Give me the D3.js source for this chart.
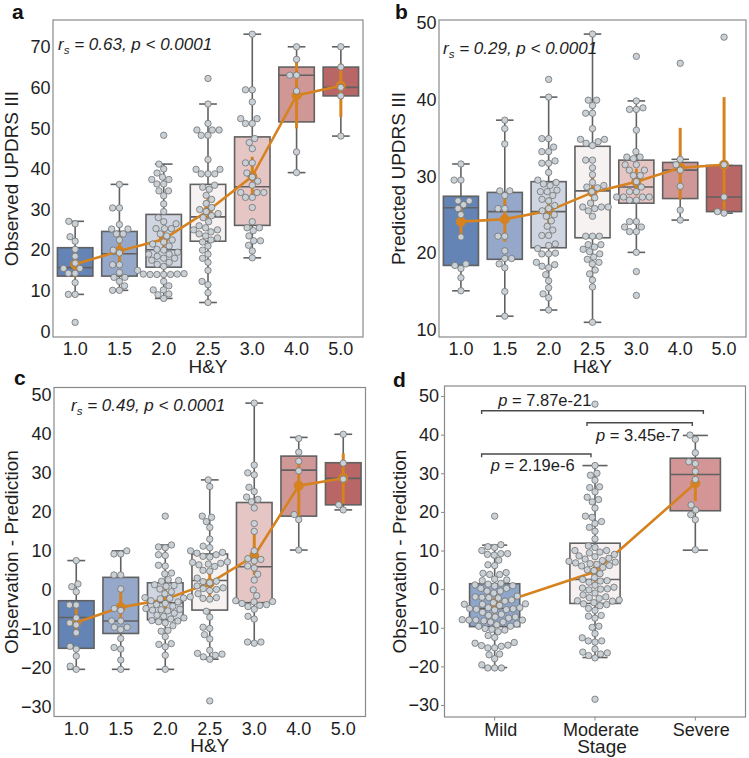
<!DOCTYPE html>
<html><head><meta charset="utf-8">
<script src="https://cdn.jsdelivr.net/npm/d3@7"></script>
<style>body{margin:0;background:#fff}svg{display:block;font-family:"Liberation Sans",Arial,Helvetica,sans-serif}</style>
</head><body>
<script>
// ---------------- DATA ----------------
const hyCats = ["1.0","1.5","2.0","2.5","3.0","4.0","5.0"];
const stageCats = ["Mild","Moderate","Severe"];
const hyColors = ["#6384b5","#95a8c9","#cfd5e1","#f7f2f2","#e6c5c5","#d09797","#b96666"];
const stageColors = ["#8fa6cb","#f6f0f0","#d39595"];

const ticksA = [0,10,20,30,40,50,60,70];
const ticksB = [10,20,30,40,50];
const ticksC = [-30,-20,-10,0,10,20,30,40,50];

// Panel a: observed UPDRS III per H&Y
const observedValues = [
 [27.1,26.5,23.3,22.2,20.2,18.5,16.8,15.5,15.5,14.3,14.3,12,9.1,9.1,2.2],
 [36.2,30.4,30.4,26.3,25.2,25.2,24,24,22.5,20,19.3,16.4,16.4,14.5,13.3,13.3,12.3,11.2,10.1,10.1],
 [48.3,41.2,40,39,38,37.4,37.4,36.3,36.3,34.6,34.6,33.4,31.4,29.5,28,27,26.5,25.3,25.3,25.3,24,23.5,22.5,22,21.5,21,20.2,20,19.5,19,19,18.5,18,18,17.5,17,16.5,16,15,14.2,14.1,14.1,14,14,14,14,12.3,11.2,10.2,10.2,9.2,9,8.1],
 [62.3,56,51.2,49.6,49.6,49.6,48.3,48.3,42.3,39.9,39.9,38.8,38.8,38.8,36,35.5,35,33.5,32.5,31.5,30.5,30,29.5,29,28.5,28,27,26,25.5,25,25,24.5,24,23.5,23,22.5,22,21,20,19,18,17,15,12.3,11.5,9.5,7.1],
 [73.2,59.5,59.5,56.5,52.4,52.4,51.2,51.2,47.5,46.5,45,41.5,41.5,39,38,37,36,34.2,34.2,34.2,33,33,30.5,27,25.5,25.5,24.8,23.5,22.3,22.3,21.2,19.8,18.1],
 [70.1,67,63.1,63.1,59.2,44.2,39.1],
 [70.1,65.1,60.1,58,48.1]
];
// [whisker low, q1, median, q3, whisker high]
const observedBox = [
 [9.1,13.6,15.7,20.6,27.1],[10.1,13.6,19.1,24.6,36.2],[8.1,15.8,20.1,28.8,41.2],
 [7.1,22.2,28.2,36.2,56],[18.1,26.1,35.6,47.9,73.2],[39.1,51.6,63.1,65.1,70.1],[48.1,58,60.1,65.1,70.1]
];
const observedMean = [16.5,19.8,22.7,29.7,38.2,58.1,60.5];
const observedCiLow = [13.3,16.8,20.5,26.5,33.5,50,52.8];
const observedCiHigh = [20,23.5,25,33,43,67,66];

// Panel b: predicted UPDRS III per H&Y
const predictedValues = [
 [31.6,29.5,29.5,26.8,26.8,26.3,25.8,25,22.1,18.6,18.4,18,16.8,15.1],
 [37.3,36.2,34.2,28.1,28.1,27.5,25.8,25.8,22.2,22.2,20.3,19.3,19.3,18.6,18.1,15,11.8],
 [42.6,40.3,34.9,34.9,33.8,33.2,33.2,32,31.7,31.7,30.5,29.5,29.2,29,28.8,28.2,28,28,27.5,27,26.8,26.2,25.8,25.5,25,24.8,24.2,23.5,23,22.3,22.3,21.2,21,20.6,20,19.9,19.9,18.8,18.5,18.3,18.1,17.2,16.4,15.5,14.7,14.2,12.6],
 [48.5,39.9,39.9,39.2,38.2,38.2,36.2,34.8,34.8,34.5,34.3,34,32.1,32.1,31.1,30.2,29.2,28.8,28.6,28.5,28,27.2,26.5,26,26,26,25.8,25.5,24.8,22.2,22.2,22.2,21.1,21.1,20.8,20.5,20.2,19.9,19.5,19.2,18.8,18.6,17.8,17.3,16.5,15.6,11],
 [45.6,39.8,38.9,38.7,38.7,36,33.2,32.5,32.5,32.3,31.5,31.5,30.8,30.8,30.1,30.1,29.3,28.6,28,28,27.3,27.3,27.3,27.3,26.9,26.9,24.1,24.1,23.4,23.4,22.8,22.8,20.1,17.6,14.5],
 [44.7,32.2,31.5,30.8,28.7,25.6,24.3],
 [48.1,31.5,27.3,25.4,25.2]
];
const predictedBox = [
 [15.1,18.4,25.9,27.4,31.6],[11.8,19.2,25.4,27.9,37.3],[12.6,20.7,25.4,29.3,40.3],
 [11,22,28.1,33.9,48.5],[20.1,26.5,28.6,32.1,39.8],[24.3,27.1,30.8,31.8,32.2],[25.2,25.4,27.3,31.4,31.4]
];
const predictedMean = [24.1,24.4,25.5,27.9,29.3,31.1,31.5];
const predictedCiLow = [21.8,21.5,23.9,25.9,27.5,27,25.3];
const predictedCiHigh = [26.1,27.3,27.2,30,31,36.3,40.3];

// Panel c: observation - prediction per H&Y
const residualValues = [
 [7.5,1.5,0.8,-0.5,-3.9,-3.9,-7.2,-8.5,-9,-11,-14.5,-15.2,-17,-19.6,-20.4],
 [10,9.2,9.2,3.8,3.8,0.2,-4.8,-5.3,-8,-8,-9.6,-9.6,-10.2,-12.5,-14.8,-15.2,-18,-20.4],
 [18.9,11.5,11,10.8,9,8.8,6.3,6.1,4.3,4.1,2.6,2.4,2.2,1.3,1.1,0.9,0.2,-0.5,-1,-1.8,-2,-2.1,-2.2,-2.3,-2.8,-3.1,-3.5,-3.8,-4.2,-4.8,-5,-5.1,-5.2,-5.4,-6,-6.5,-6.8,-7.2,-7.5,-7.9,-8,-8.2,-8.5,-9.2,-10.4,-10.6,-12,-13.8,-14,-14.6,-16.8,-20.4],
 [28.2,26.5,18.9,18.6,17.5,16,13,11.2,10.8,10,9.6,9.4,9,8.6,8.4,7.2,7,6.8,6.6,6.4,6,5,4.8,3,2.2,2.1,1.8,1,0.5,0.3,0.1,-0.2,-1,-2,-2.2,-2.4,-5.5,-7,-9.6,-9.9,-11.5,-12.6,-15.5,-16.3,-16.5,-16.8,-17.2,-17.8,-28.5],
 [47.9,32,30,29.5,26.3,25.2,23.8,23.2,22.6,21,17,15,10,8,7.8,7.4,6.1,5.6,4,2.5,0,-1.5,-2.8,-3,-3.1,-3.5,-3.8,-4,-4.3,-5,-6.8,-7.5,-13.4,-13.4,-13.7],
 [38.8,35.3,33,30.5,19.3,18,10.2],
 [39.9,32.5,28.4,21.8,20.5]
];
const residualBox = [
 [-20.4,-15,-7.1,-2.8,7.5],[-20.4,-11.2,-8,3.2,10],[-20.4,-7.7,-3.3,1.8,11.5],
 [-17.8,-5.2,2.4,9.2,28.2],[-13.7,-3.3,5.9,22.4,47.9],[10.2,18.9,30.7,34.3,39.1],[20.5,21.8,28.6,32.6,39.9]
];
const residualMean = [-8.4,-4.5,-2.4,1.7,8.7,26.7,28.6];
const residualCiLow = [-12,-7.9,-5.2,-1.8,3.8,18.8,22.2];
const residualCiHigh = [-4.75,1,0.8,5.3,14.5,33.3,35];

// Panel d: stages (Mild = H&Y 1-2, Moderate = 2.5-3, Severe = 4-5)
const stageGroups = [[0,1,2],[3,4],[5,6]];
const stageBox = [[-20.3,-9.7,-5,1.4,11.4],[-17.7,-3.7,2.5,11.9,32],[10.1,20.3,29.7,33.9,39.8]];
const stageMean = [-4.1,4.5,27.4];
const stageCiLow = [-6.5,1.8,22.8];
const stageCiHigh = [-2.2,7.2,31.5];
// brackets: [from index, to index, level], labels: [text, x index, y value]
const bracketSpans = [[-0.13,2.08,46.2],[0.92,1.97,43.1],[-0.13,0.96,35]];
const bracketLabels = [["7.87e-21",0.036,47.4],["3.45e-7",1.01,38.35],["2.19e-6",-0.04,30.66]];

// ---------------- DRAWING ----------------
const W = 749, H = 758;
const ORANGE = "#d5821f", EDGE = "#616161", FRAME = "#8a8a8a", TXT = "#1e1e1e";
const FONT = "Liberation Sans, Arial, sans-serif";
const svg = d3.select("body").append("svg").attr("width", W).attr("height", H);
svg.append("rect").attr("width", W).attr("height", H).attr("fill", "#fff");

function swarm(vals, y, cx, dd) {
  const pts = vals.map(v => ({v, y: y(v)})).sort((a, b) => b.y - a.y);
  const placed = [];
  for (const p of pts) {
    const nb = placed.filter(q => Math.abs(q.y - p.y) < dd);
    const cand = [cx];
    nb.forEach(q => { const dx = Math.sqrt(dd * dd - (q.y - p.y) ** 2); cand.push(q.x - dx, q.x + dx); });
    cand.sort((a, b) => Math.abs(a - cx) - Math.abs(b - cx));
    let best = cx;
    for (const c of cand) {
      if (nb.every(q => (q.x - c) ** 2 + (q.y - p.y) ** 2 >= dd * dd - 0.01)) { best = c; break; }
    }
    p.x = best; placed.push(p);
  }
  return placed;
}

function panel(cfg) {
  const g = svg.append("g");
  const x = d3.scaleBand().domain(cfg.cats).range([cfg.x0, cfg.x1]).padding(0);
  const y = d3.scaleLinear().domain(cfg.dom).range([cfg.y1, cfg.y0]);
  const bw = x.bandwidth() * cfg.bw;
  const cx = c => x(c) + x.bandwidth() / 2;

  // y axis
  const ya = g.append("g").attr("transform", `translate(${cfg.x0},0)`)
    .call(d3.axisLeft(y).tickValues(cfg.ticks).tickSize(cfg.tickMarks ? 3.5 : 0).tickPadding(cfg.tickMarks ? 2 : 2.5)
      .tickFormat(d => d < 0 ? "\u2212" + Math.abs(d) : d));
  ya.select(".domain").remove();
  ya.selectAll("line").attr("stroke", FRAME);
  ya.selectAll("text").attr("font-size", 18).attr("fill", TXT).attr("font-family", FONT);
  // x axis
  const xa = g.append("g").attr("transform", `translate(0,${cfg.y1})`)
    .call(d3.axisBottom(x).tickSize(cfg.tickMarks ? 3.5 : 0).tickPadding(cfg.tickMarks ? 3 : 5.5));
  xa.select(".domain").remove();
  xa.selectAll("line").attr("stroke", FRAME);
  xa.selectAll("text").attr("font-size", 18).attr("fill", TXT).attr("dx", cfg.labelDx || 0)
    .attr("font-family", FONT);

  // boxes
  cfg.cats.forEach((c, i) => {
    const [lo, q1, med, q3, hi] = cfg.box[i];
    const X = cx(c);
    g.append("line").attr("x1", X).attr("x2", X).attr("y1", y(q3)).attr("y2", y(hi)).attr("stroke", EDGE).attr("stroke-width", 1.6);
    g.append("line").attr("x1", X).attr("x2", X).attr("y1", y(q1)).attr("y2", y(lo)).attr("stroke", EDGE).attr("stroke-width", 1.6);
    [lo, hi].forEach(v => g.append("line").attr("x1", X - bw / 4).attr("x2", X + bw / 4).attr("y1", y(v)).attr("y2", y(v))
      .attr("stroke", EDGE).attr("stroke-width", 1.6));
    g.append("rect").attr("x", X - bw / 2).attr("width", bw).attr("y", y(q3)).attr("height", y(q1) - y(q3))
      .attr("fill", cfg.colors[i]).attr("stroke", EDGE).attr("stroke-width", 1.6);
    g.append("line").attr("x1", X - bw / 2).attr("x2", X + bw / 2).attr("y1", y(med)).attr("y2", y(med))
      .attr("stroke", EDGE).attr("stroke-width", 1.6);
  });

  // mean + CI
  cfg.cats.forEach((c, i) => {
    g.append("line").attr("x1", cx(c)).attr("x2", cx(c)).attr("y1", y(cfg.lo[i])).attr("y2", y(cfg.hi[i]))
      .attr("stroke", ORANGE).attr("stroke-width", 3);
  });
  g.append("path").datum(cfg.cats.map((c, i) => [cx(c), y(cfg.mean[i])]))
    .attr("d", d3.line()).attr("fill", "none").attr("stroke", ORANGE).attr("stroke-width", 2.6);
  g.selectAll(null).data(cfg.cats).enter().append("circle")
    .attr("cx", c => cx(c)).attr("cy", (c, i) => y(cfg.mean[i])).attr("r", 5).attr("fill", ORANGE);

  // swarm points
  cfg.cats.forEach((c, i) => {
    const pts = swarm(cfg.values[i], y, cx(c), 6.8);
    g.selectAll(null).data(pts).enter().append("circle")
      .attr("cx", p => p.x).attr("cy", p => p.y).attr("r", 3.2)
      .attr("fill", "#c9d1d7").attr("stroke", "#717171").attr("stroke-width", 0.8);
  });

  // frame
  g.append("rect").attr("x", cfg.x0).attr("y", cfg.y0).attr("width", cfg.x1 - cfg.x0).attr("height", cfg.y1 - cfg.y0)
    .attr("fill", "none").attr("stroke", FRAME).attr("stroke-width", 1.2);

  // labels
  g.append("text").attr("transform", `translate(${cfg.ylabX},${(cfg.y0 + cfg.y1) / 2}) rotate(-90)`)
    .attr("text-anchor", "middle").attr("font-size", 19).attr("fill", TXT).text(cfg.ylab);
  g.append("text").attr("x", cfg.xlabX || (cfg.x0 + cfg.x1) / 2).attr("y", cfg.y1 + 35.5)
    .attr("text-anchor", "middle").attr("font-size", 19).attr("fill", TXT).text(cfg.xlab);
  g.append("text").attr("x", cfg.letter[0]).attr("y", cfg.letter[1]).attr("font-size", 21)
    .attr("font-weight", "bold").attr("fill", "#111").text(cfg.id);
  if (cfg.ann) {
    const t = g.append("text").attr("x", cfg.ann[1]).attr("y", cfg.ann[2]).attr("font-size", 17)
      .attr("font-style", "italic").attr("fill", TXT);
    t.append("tspan").text("r");
    t.append("tspan").attr("font-size", 11.5).attr("dy", 4).text("s");
    t.append("tspan").attr("dy", -4).text(` = ${cfg.ann[0]}, p < 0.0001`);
  }
  return {g, x, y};
}

panel({id:"a", cats:hyCats, x0:53, x1:363, y0:20, y1:337, dom:[-1.4,76.7], ticks:ticksA,
  values:observedValues, box:observedBox, mean:observedMean, lo:observedCiLow, hi:observedCiHigh,
  colors:hyColors, bw:0.8, ylab:"Observed UPDRS III", ylabX:18, xlab:"H&Y", letter:[12,19], ann:["0.63",58,50]});
panel({id:"b", cats:hyCats, x0:439, x1:746, y0:20, y1:337, dom:[9.09,50.33], ticks:ticksB,
  values:predictedValues, box:predictedBox, mean:predictedMean, lo:predictedCiLow, hi:predictedCiHigh,
  colors:hyColors, bw:0.8, ylab:"Predicted UPDRS III", ylabX:405, xlab:"H&Y", letter:[395,19], ann:["0.29",443,54]});
panel({id:"c", cats:hyCats, x0:54, x1:365.5, y0:387.5, y1:716.5, dom:[-32.5,51.9], ticks:ticksC,
  values:residualValues, box:residualBox, mean:residualMean, lo:residualCiLow, hi:residualCiHigh,
  colors:hyColors, bw:0.8, ylab:"Observation - Prediction", ylabX:18, xlab:"H&Y", letter:[14,385], ann:["0.49",71,411]});

const stageValues = stageGroups.map(gr => gr.flatMap(i => residualValues[i]));
const pd = panel({id:"d", cats:stageCats, x0:444.5, x1:745.5, y0:386, y1:717, dom:[-33.1,52.6], ticks:ticksC,
  values:stageValues, box:stageBox, mean:stageMean, lo:stageCiLow, hi:stageCiHigh,
  colors:stageColors, bw:0.5, ylab:"Observation - Prediction", ylabX:406, xlab:"Stage", xlabX:602,
  letter:[393,387], tickMarks:true, labelDx:6});

// significance brackets
const xi = d3.scaleLinear().domain([-0.5, 2.5]).range([444.5, 745.5]);
bracketSpans.forEach(([a, b, lev]) => {
  const yy = pd.y(lev);
  pd.g.append("path").attr("d", `M${xi(a)},${yy + 3.3}V${yy}H${xi(b)}V${yy + 3.3}`)
    .attr("fill", "none").attr("stroke", "#4a4a4a").attr("stroke-width", 1.4);
});
bracketLabels.forEach(([txt, xv, yv]) => {
  const t = pd.g.append("text").attr("x", xi(xv)).attr("y", pd.y(yv)).attr("font-size", 16.5).attr("fill", TXT);
  t.append("tspan").attr("font-style", "italic").text("p");
  t.append("tspan").text(" = " + txt);
});
</script>
</body></html>
